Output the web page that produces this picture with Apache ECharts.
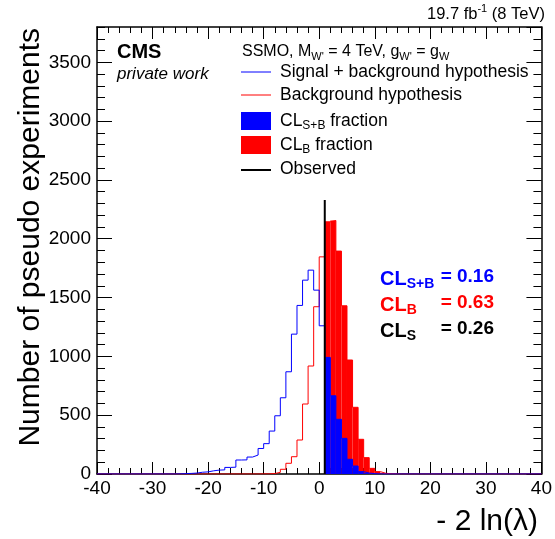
<!DOCTYPE html>
<html><head><meta charset="utf-8">
<script src="https://cdn.jsdelivr.net/npm/echarts@6/dist/echarts.min.js"></script>
<style>html,body{margin:0;padding:0;background:#fff}#c{width:555px;height:539px}</style>
</head><body><div id="c"></div>
<script>
// ---- data ----
const binLow = [-40,-39,-38,-37,-36,-35,-34,-33,-32,-31,
  -30,-29,-28,-27,-26,-25,-24,-23,-22,-21,
  -20,-19,-18,-17,-16,-15,-14,-13,-12,-11,
  -10,-9,-8,-7,-6,-5,-4,-3,-2,-1,
  0,1,2,3,4,5,6,7,8,9,
  10,11,12,13,14,15,16,17,18,19,
  20,21,22,23,24,25,26,27,28,29,
  30,31,32,33,34,35,36,37,38,39];
const binWidth = 1;
const lastEdge = 40;
// signal + background hypothesis (blue)
const sbCounts = [0,0,0,0,0,0,0,0,0,0,
  0,0,0,0,1,3,5,8,15,18,
  27,33,35,56,58,119,120,144,161,217,
  258,365,495,648,869,1189,1433,1648,1733,1563,
  1260,991,665,465,303,125,68,20,8,3,
  1,0,0,0,0,0,0,0,0,0,
  0,0,0,0,0,0,0,0,0,0,
  0,0,0,0,0,0,0,0,0,0];
// background hypothesis (red)
const bCounts = [0,0,0,0,0,0,0,0,0,0,
  0,0,0,0,0,0,0,0,0,0,
  0,0,0,0,0,0,0,0,0,1,
  1,4,14,40,91,147,289,595,918,1422,
  1846,2144,2155,1895,1430,969,567,295,139,48,
  20,6,2,1,0,0,0,0,0,0,
  0,0,0,0,0,0,0,0,0,0,
  0,0,0,0,0,0,0,0,0,0];
const observed = 1.0;
const observedTop = 2330;
const xMin = -40, xMax = 40, xMajor = 10, xMinor = 2;
const yMin = 0, yMax = 3800, yMajor = 500, yMinor = 100;
const clValues = {sb: '0.16', b: '0.63', s: '0.26'};

// ---- chart ----
const FONT = "'Liberation Sans', Arial, Helvetica, sans-serif";
const chart = echarts.init(document.getElementById('c'), null, {renderer: 'canvas'});

function stepData(counts) {
  const d = binLow.map((x, i) => [x, counts[i]]);
  d.push([lastEdge, counts[counts.length - 1]]);
  return d;
}
function fillData(counts) {
  return binLow.map((x, i) => [x, x + binWidth, counts[i]]).filter(d => d[0] >= observed);
}
function fillSeries(counts, color, z) {
  return {
    type: 'custom', z: z, silent: true,
    encode: {x: [0, 1], y: 2},
    renderItem: function (params, api) {
      const p0 = api.coord([api.value(0), api.value(2)]);
      const p1 = api.coord([api.value(1), 0]);
      return {type: 'rect', shape: {x: p0[0], y: p0[1], width: p1[0] - p0[0], height: p1[1] - p0[1]},
        style: {fill: color, stroke: null}};
    },
    data: fillData(counts)
  };
}
const plain = v => String(v);
function xAx(pos, interval, len, showLabel, showLine) {
  return {type: 'value', min: xMin, max: xMax, interval: interval, position: pos,
    axisLine: {show: showLine, onZero: false, lineStyle: {color: '#000', width: 1.5}},
    axisTick: {show: true, inside: true, length: len, lineStyle: {color: '#000', width: 1}},
    axisLabel: {show: showLabel, fontSize: 19, color: '#000', fontFamily: FONT, margin: 5, formatter: plain},
    splitLine: {show: false}};
}
function yAx(pos, interval, len, showLabel, showLine) {
  return {type: 'value', min: yMin, max: yMax, interval: interval, position: pos,
    axisLine: {show: showLine, onZero: false, lineStyle: {color: '#000', width: 1.5}},
    axisTick: {show: true, inside: true, length: len, lineStyle: {color: '#000', width: 1}},
    axisLabel: {show: showLabel, fontSize: 19, color: '#000', fontFamily: FONT, margin: 6, showMaxLabel: false, formatter: plain},
    splitLine: {show: false}};
}

const subRich = (size, color, bold) => ({
  t: {fontSize: size, fontFamily: FONT, fill: color, fontWeight: bold ? 'bold' : 'normal', lineHeight: size + 4},
  s: {fontSize: Math.round(size * 0.68), fontFamily: FONT, fill: color, fontWeight: bold ? 'bold' : 'normal', lineHeight: 8, verticalAlign: 'bottom'},
  u: {fontSize: Math.round(size * 0.65), fontFamily: FONT, fill: color, lineHeight: 8, verticalAlign: 'top'}
});

const legX0 = 241, legX1 = 271, legTX = 280;
const graphics = [
  // y-axis title
  {type: 'text', x: 31, y: 28, rotation: Math.PI / 2,
    style: {text: 'Number of pseudo experiments', font: "30px " + FONT, fill: '#000', align: 'right', verticalAlign: 'middle'}},
  // x-axis title
  {type: 'text', x: 538, y: 522,
    style: {text: '- 2 ln(λ)', font: "30px " + FONT, fill: '#000', align: 'right', verticalAlign: 'middle'}},
  // lumi
  {type: 'text', x: 545, y: 14,
    style: {text: '{t|19.7 fb}{u|-1}{t| (8 TeV)}', rich: subRich(16.5, '#000', false), align: 'right', verticalAlign: 'middle'}},
  // CMS
  {type: 'text', x: 117, y: 52, style: {text: 'CMS', font: "bold 20px " + FONT, fill: '#000', verticalAlign: 'middle'}},
  {type: 'text', x: 117, y: 74, style: {text: 'private work', font: "italic 17px " + FONT, fill: '#000', verticalAlign: 'middle'}},
  // legend header
  {type: 'text', x: 242, y: 52,
    style: {text: "{t|SSMO, M}{s|W'}{t| = 4 TeV, g}{s|W'}{t| = g}{s|W}", rich: subRich(16, '#000', false), verticalAlign: 'middle'}},
  // legend entries
  {type: 'line', shape: {x1: legX0, y1: 72, x2: legX1, y2: 72}, style: {stroke: '#0000ff', lineWidth: 1}},
  {type: 'text', x: legTX, y: 72, style: {text: 'Signal + background hypothesis', font: "17.5px " + FONT, fill: '#000', verticalAlign: 'middle'}},
  {type: 'line', shape: {x1: legX0, y1: 95, x2: legX1, y2: 95}, style: {stroke: '#ff0000', lineWidth: 1}},
  {type: 'text', x: legTX, y: 95, style: {text: 'Background hypothesis', font: "17.5px " + FONT, fill: '#000', verticalAlign: 'middle'}},
  {type: 'rect', shape: {x: legX0, y: 112, width: legX1 - legX0, height: 18}, style: {fill: '#0000ff'}},
  {type: 'text', x: legTX, y: 121, style: {text: '{t|CL}{s|S+B}{t| fraction}', rich: subRich(17.5, '#000', false), verticalAlign: 'middle'}},
  {type: 'rect', shape: {x: legX0, y: 136, width: legX1 - legX0, height: 18}, style: {fill: '#ff0000'}},
  {type: 'text', x: legTX, y: 145, style: {text: '{t|CL}{s|B}{t| fraction}', rich: subRich(17.5, '#000', false), verticalAlign: 'middle'}},
  {type: 'line', shape: {x1: legX0, y1: 170, x2: legX1, y2: 170}, style: {stroke: '#000', lineWidth: 2}},
  {type: 'text', x: legTX, y: 169, style: {text: 'Observed', font: "17.5px " + FONT, fill: '#000', verticalAlign: 'middle'}},
  // CL results
  {type: 'text', x: 380, y: 279, style: {text: '{t|CL}{s|S+B}', rich: subRich(20, '#0000ff', true), verticalAlign: 'middle'}},
  {type: 'text', x: 494, y: 277, style: {text: '= ' + clValues.sb, font: "bold 19px " + FONT, fill: '#0000ff', align: 'right', verticalAlign: 'middle'}},
  {type: 'text', x: 380, y: 305, style: {text: '{t|CL}{s|B}', rich: subRich(20, '#ff0000', true), verticalAlign: 'middle'}},
  {type: 'text', x: 494, y: 303, style: {text: '= ' + clValues.b, font: "bold 19px " + FONT, fill: '#ff0000', align: 'right', verticalAlign: 'middle'}},
  {type: 'text', x: 380, y: 331, style: {text: '{t|CL}{s|S}', rich: subRich(20, '#000', true), verticalAlign: 'middle'}},
  {type: 'text', x: 494, y: 329, style: {text: '= ' + clValues.s, font: "bold 19px " + FONT, fill: '#000', align: 'right', verticalAlign: 'middle'}}
];

chart.setOption({
  animation: false,
  backgroundColor: '#fff',
  grid: {left: 97, right: 10, top: 27, bottom: 65, containLabel: false},
  xAxis: [xAx('bottom', xMajor, 12, true, true), xAx('bottom', xMinor, 6, false, false),
          xAx('top', xMajor, 12, false, true), xAx('top', xMinor, 6, false, false)],
  yAxis: [yAx('left', yMajor, 15, true, true), yAx('left', yMinor, 8, false, false),
          yAx('right', yMajor, 15, false, true), yAx('right', yMinor, 8, false, false)],
  series: [
    fillSeries(bCounts, '#ff0000', 2),
    fillSeries(sbCounts, '#0000ff', 3),
    {type: 'line', step: 'end', data: stepData(bCounts), showSymbol: false, symbol: 'none', z: 4,
      lineStyle: {color: '#ff0000', width: 1}, silent: true},
    {type: 'line', step: 'end', data: stepData(sbCounts), showSymbol: false, symbol: 'none', z: 5,
      lineStyle: {color: '#0000ff', width: 1}, silent: true},
    {type: 'line', data: [[observed, 0], [observed, observedTop]], showSymbol: false, symbol: 'none', z: 6,
      lineStyle: {color: '#000', width: 2}, silent: true}
  ],
  graphic: graphics
});
</script>
</body></html>
